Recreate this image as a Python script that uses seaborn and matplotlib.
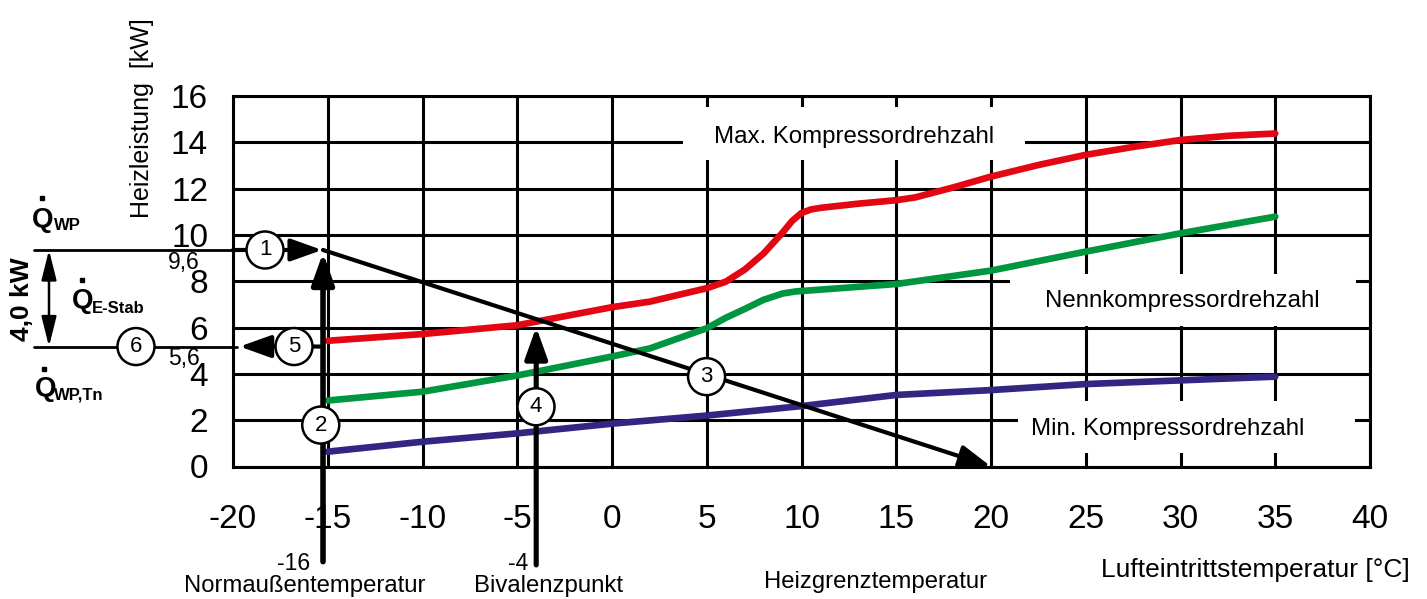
import matplotlib
matplotlib.use("Agg")
import matplotlib.pyplot as plt
from matplotlib.lines import Line2D
from matplotlib.patches import Rectangle
import pandas as pd
import seaborn as sns

# Heizleistung je Kompressordrehzahl
max_x = [-15, -10, -5, 0, 2, 5, 6, 7, 8, 9, 9.5, 10, 10.5, 11, 13, 15, 16, 18, 20, 22.5, 25, 27.5, 30, 32.5, 35]
max_y = [5.43, 5.72, 6.1, 6.88, 7.12, 7.7, 7.98, 8.5, 9.2, 10.1, 10.6, 10.95, 11.1, 11.17, 11.35, 11.5, 11.62, 12.05, 12.52, 13.02, 13.46, 13.8, 14.1, 14.28, 14.38]
nenn_x = [-15, -10, -5, 0, 2, 5, 6, 7, 8, 9, 9.7, 15, 20, 25, 30, 35]
nenn_y = [2.85, 3.23, 3.93, 4.75, 5.1, 5.97, 6.42, 6.8, 7.2, 7.47, 7.56, 7.88, 8.46, 9.28, 10.07, 10.79]
min_x = [-15, -10, -5, 0, 5, 10, 15, 20, 25, 30, 35]
min_y = [0.64, 1.07, 1.43, 1.85, 2.2, 2.61, 3.09, 3.3, 3.56, 3.72, 3.88]

series_names = ["Max. Kompressordrehzahl", "Nennkompressordrehzahl", "Min. Kompressordrehzahl"]
series_colors = ["#e30613", "#009640", "#312783"]

# Auslegungspunkte (wie gezeichnet)
norm_temp = -15.25      # Normaußentemperatur
bival_temp = -4.0       # Bivalenzpunkt
heat_limit = 20.0       # Heizgrenztemperatur
q_wp = 9.35
q_tn = 5.18

x_ticks = list(range(-20, 41, 5))
y_ticks = list(range(0, 17, 2))

W, H = 1427, 599


def fpx(x, y):
    return x / W, 1 - y / H


sns.set_theme(style="white")
plt.rcParams["font.family"] = ["Liberation Sans", "DejaVu Sans"]
plt.rcParams["axes.unicode_minus"] = False
plt.rcParams["text.color"] = "black"

df = pd.concat([
    pd.DataFrame({"t": max_x, "q": max_y, "kurve": series_names[0]}),
    pd.DataFrame({"t": nenn_x, "q": nenn_y, "kurve": series_names[1]}),
    pd.DataFrame({"t": min_x, "q": min_y, "kurve": series_names[2]}),
])

fig = plt.figure(figsize=(W / 100, H / 100), dpi=100)
ax = fig.add_axes([233 / W, 1 - 466.5 / H, (1370 - 233) / W, (466.5 - 96) / H])

sns.lineplot(data=df, x="t", y="q", hue="kurve", palette=series_colors,
             hue_order=series_names, lw=4.8, legend=False, ax=ax, zorder=3)

ax.set_xlim(-20, 40)
ax.set_ylim(0, 16)
ax.set_xticks(x_ticks)
ax.set_yticks(y_ticks)
ax.set_axisbelow(True)
ax.grid(True, color="black", lw=2.2)
for s in ax.spines.values():
    s.set_color("black")
    s.set_linewidth(2.2)
ax.tick_params(axis="x", direction="out", length=9, width=2.2, pad=18, labelsize=24,
               colors="black", labelcolor="black")
ax.tick_params(axis="y", direction="out", length=7, width=2.2, pad=11, labelsize=24,
               colors="black", labelcolor="black")
ax.set_xlabel("")
ax.set_ylabel("")

# weiße Beschriftungsfelder über dem Gitter
boxes = [((3.75, 13.25), 18.05, 2.29, series_names[0], (12.77, 14.25)),
         ((21.0, 6.08), 18.26, 2.24, series_names[1], (30.1, 7.15)),
         ((21.4, 0.58), 17.8, 2.26, series_names[2], (29.3, 1.62))]
for (x0, y0), bw, bh, label, (tx, ty) in boxes:
    ax.add_patch(Rectangle((x0, y0), bw, bh, fc="white", ec="none", zorder=1))
    ax.text(tx, ty, label, ha="center", va="center", fontsize=17.3, zorder=2)

arrow = dict(arrowstyle="-|>,head_length=0.95,head_width=0.34", color="black",
             shrinkA=0, shrinkB=0, mutation_scale=20)

# Heizgrenzgerade
ax.annotate("", xy=(heat_limit, 0), xytext=(norm_temp, q_wp),
            arrowprops=dict(arrow, lw=3), annotation_clip=False, zorder=4)
# Pfeil 1
ax.annotate("", xy=(norm_temp - 0.05, q_wp), xytext=(-20, q_wp),
            arrowprops=dict(arrow, lw=3), annotation_clip=False, zorder=4)
# Pfeil 2
ax.annotate("", xy=(norm_temp, q_wp - 0.12), xytext=(norm_temp, -4.11),
            arrowprops=dict(arrow, lw=4), annotation_clip=False, zorder=4)
# Pfeil 4
ax.annotate("", xy=(bival_temp, 6.02), xytext=(bival_temp, -4.25),
            arrowprops=dict(arrow, lw=3.7), annotation_clip=False, zorder=4)
# Pfeil 5
ax.annotate("", xy=(-19.65, q_tn), xytext=(norm_temp, q_tn),
            arrowprops=dict(arrow, lw=3), annotation_clip=False, zorder=4)

# Linien links außerhalb
ax.plot([-30.5, -20], [q_wp, q_wp], color="black", lw=2, clip_on=False, zorder=4)
ax.plot([-30.5, -19.8], [q_tn, q_tn], color="black", lw=2, clip_on=False, zorder=4)
ax.annotate("", xy=(-29.71, q_tn), xytext=(-29.71, q_wp),
            arrowprops=dict(arrowstyle="<|-|>,head_length=1.4,head_width=0.35", color="black",
                            lw=1.8, shrinkA=0, shrinkB=0, mutation_scale=13),
            annotation_clip=False, zorder=4)

# nummerierte Kreise
circles = [("1", -18.31, q_wp), ("2", -15.37, 1.79), ("3", 4.99, 3.88),
           ("4", -4.01, 2.58), ("5", -16.78, q_tn), ("6", -25.12, q_tn)]
for num, cx, cy in circles:
    ax.text(cx, cy, num, ha="center", va="center", fontsize=16, zorder=6, clip_on=False,
            bbox=dict(boxstyle="circle,pad=0.36", fc="white", ec="black", lw=1.8))

# Texte außerhalb der Achsen
fig.text(*fpx(142, 118), "Heizleistung  [kW]", rotation=90, ha="center", va="center", fontsize=18)
fig.text(*fpx(1255, 570), "Lufteintrittstemperatur [°C]", ha="center", va="center", fontsize=19)
fig.text(*fpx(294, 563), "-16", ha="center", va="center", fontsize=16.5)
fig.text(*fpx(305, 586), "Normaußentemperatur", ha="center", va="center", fontsize=17.2)
fig.text(*fpx(518, 563), "-4", ha="center", va="center", fontsize=16.5)
fig.text(*fpx(548, 586), "Bivalenzpunkt", ha="center", va="center", fontsize=17.2)
fig.text(*fpx(876, 582), "Heizgrenztemperatur", ha="center", va="center", fontsize=17.2)
fig.text(*fpx(184, 263), "9,6", ha="center", va="center", fontsize=16.5)
fig.text(*fpx(184, 358), "5,6", ha="center", va="center", fontsize=16.5)
fig.text(*fpx(22, 299), "4,0 kW", rotation=90, ha="center", va="center", fontsize=19, fontweight="bold")

# Q-Punkt-Bezeichnungen
q_labels = [((32, 227), (54, 230), (42, 198), "WP"),
            ((72, 308), (92, 313), (82, 280), "E-Stab"),
            ((35, 396), (54, 399), (44, 369), "WP,Tn")]
for qpos, spos, dpos, sub in q_labels:
    fig.text(*fpx(*qpos), "Q", ha="left", va="baseline", fontsize=20, fontweight="bold")
    fig.text(*fpx(*spos), sub, ha="left", va="baseline", fontsize=12, fontweight="bold")
    fig.add_artist(Line2D([dpos[0] / W], [1 - dpos[1] / H], marker="s", ms=3.2,
                          color="black", transform=fig.transFigure))

fig.savefig("out.png", dpi=100)
